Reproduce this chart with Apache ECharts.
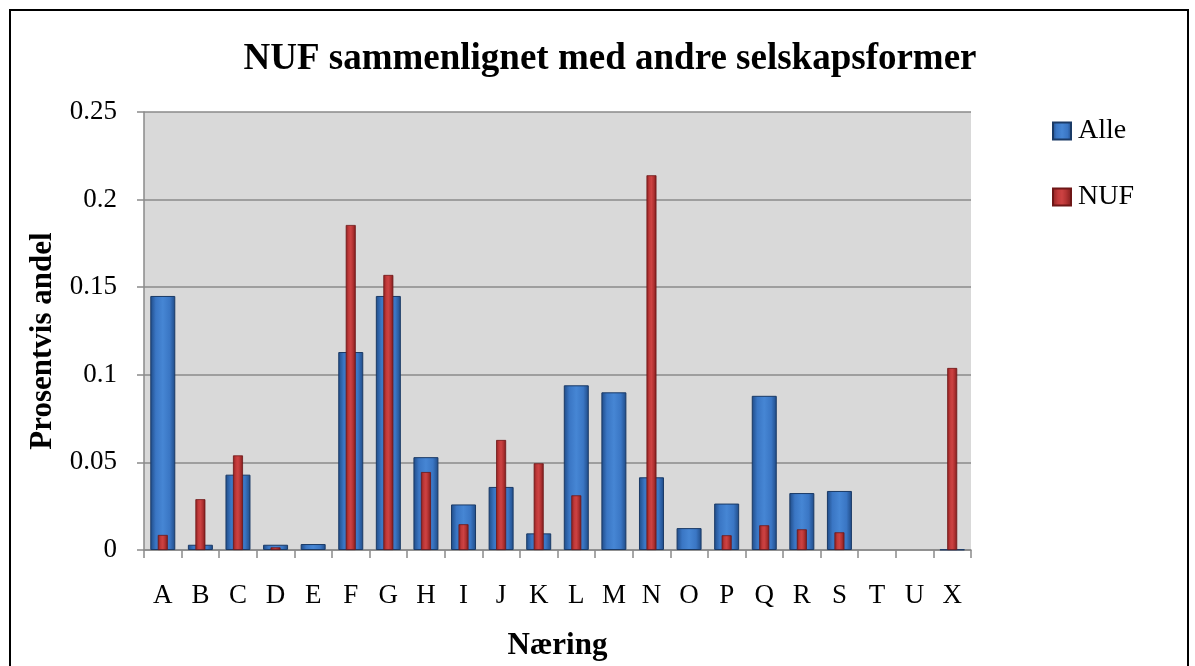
<!DOCTYPE html>
<html>
<head>
<meta charset="utf-8">
<script src="https://cdn.jsdelivr.net/npm/echarts@6/dist/echarts.min.js"></script>
<style>
  html, body { margin: 0; padding: 0; background: #fff; }
  #chart { width: 1195px; height: 666px; }
</style>
</head>
<body>
<div id="chart"></div>
<script>
// Næringskoder
const categories = ['A', 'B', 'C', 'D', 'E', 'F', 'G', 'H', 'I', 'J', 'K', 'L', 'M', 'N', 'O', 'P', 'Q', 'R', 'S', 'T', 'U', 'X'];

// Andel per næring, lest av figuren
const alleValues = [0.145, 0.003, 0.043, 0.003, 0.0034, 0.113, 0.145, 0.053, 0.026, 0.036, 0.0095, 0.094, 0.090, 0.0415, 0.0125, 0.0265, 0.088, 0.0325, 0.0337, 0, 0, 0.0003];
const nufValues = [0.0086, 0.029, 0.054, 0.0015, 0, 0.1855, 0.157, 0.0445, 0.0147, 0.0628, 0.0495, 0.0312, 0, 0.2139, 0, 0.0084, 0.0141, 0.0118, 0.0101, 0, 0, 0.1039];

const yTickLabels = { 0: '0', 0.05: '0.05', 0.1: '0.1', 0.15: '0.15', 0.2: '0.2', 0.25: '0.25' };

const serif = '"Liberation Serif", "DejaVu Serif", serif';

// tomme verdier skal ikke tegnes som strek
const noZero = arr => arr.map(v => (v === 0 ? null : v));

const blueFill = new echarts.graphic.LinearGradient(0, 0, 1, 0, [
    { offset: 0, color: '#1f4a85' },
    { offset: 0.22, color: '#3a76c4' },
    { offset: 0.5, color: '#4686d4' },
    { offset: 0.78, color: '#3a76c4' },
    { offset: 1, color: '#1f4a85' }
]);
const redFill = new echarts.graphic.LinearGradient(0, 0, 1, 0, [
    { offset: 0, color: '#8a1f1f' },
    { offset: 0.3, color: '#c23a3a' },
    { offset: 0.5, color: '#cc4242' },
    { offset: 0.7, color: '#b53434' },
    { offset: 1, color: '#7d1b1b' }
]);

const myChart = echarts.init(document.getElementById('chart'));

const option = {
    backgroundColor: '#fff',
    animation: false,
    graphic: [
        {
            type: 'rect',
            shape: { x: 10, y: 10, width: 1178, height: 700 },
            style: { fill: 'none', stroke: '#000', lineWidth: 2 },
            silent: true
        }
    ],
    title: {
        text: 'NUF sammenlignet med andre selskapsformer',
        left: 605,
        textAlign: 'center',
        top: 36,
        textStyle: { fontFamily: serif, fontSize: 37, fontWeight: 'bold', color: '#000' }
    },
    legend: {
        orient: 'vertical',
        left: 1047,
        top: 112,
        itemWidth: 18,
        itemHeight: 17,
        itemGap: 38,
        icon: 'rect',
        textStyle: { fontFamily: serif, fontSize: 28, color: '#000', padding: [0, 0, 0, 2] },
        data: ['Alle', 'NUF']
    },
    grid: {
        left: 144,
        right: 224,
        top: 112,
        bottom: 116,
        show: true,
        backgroundColor: '#d9d9d9',
        borderWidth: 0
    },
    xAxis: [
        {
            type: 'category',
            data: categories,
            name: 'Næring',
            nameLocation: 'middle',
            nameGap: 80,
            nameTextStyle: { fontFamily: serif, fontSize: 31, fontWeight: 'bold', color: '#000' },
            axisLine: { lineStyle: { color: '#8a8a8a', width: 1.5 } },
            axisTick: { show: true, length: 8, lineStyle: { color: '#8a8a8a', width: 1.5 } },
            axisLabel: { fontFamily: serif, fontSize: 27, color: '#000', margin: 32 }
        },
        {
            type: 'category',
            data: categories,
            show: false
        }
    ],
    yAxis: {
        type: 'value',
        min: 0,
        max: 0.25,
        interval: 0.05,
        name: 'Prosentvis andel',
        nameLocation: 'middle',
        nameGap: 82,
        nameTextStyle: {
            fontFamily: serif,
            fontSize: 31,
            fontWeight: 'bold',
            color: '#000',
            padding: [0, 20, 0, 0]
        },
        axisLine: { show: true, lineStyle: { color: '#8a8a8a', width: 1.5 } },
        axisTick: { show: true, length: 7, lineStyle: { color: '#8a8a8a', width: 1.5 } },
        axisLabel: {
            fontFamily: serif,
            fontSize: 27,
            color: '#000',
            margin: 27,
            formatter: v => yTickLabels[Math.round(v * 100) / 100] ?? String(v)
        },
        splitLine: { lineStyle: { color: '#8a8a8a', width: 1.5 } }
    },
    series: [
        {
            name: 'Alle',
            type: 'bar',
            xAxisIndex: 0,
            data: noZero(alleValues),
            barWidth: 25,
            itemStyle: { color: blueFill, borderColor: '#1a3a66', borderWidth: 1 }
        },
        {
            name: 'NUF',
            type: 'bar',
            xAxisIndex: 1,
            data: noZero(nufValues),
            barWidth: 10,
            itemStyle: { color: redFill, borderColor: '#6e1717', borderWidth: 0.8 }
        }
    ]
};

myChart.setOption(option);
window.addEventListener('resize', () => myChart.resize());
</script>
</body>
</html>
